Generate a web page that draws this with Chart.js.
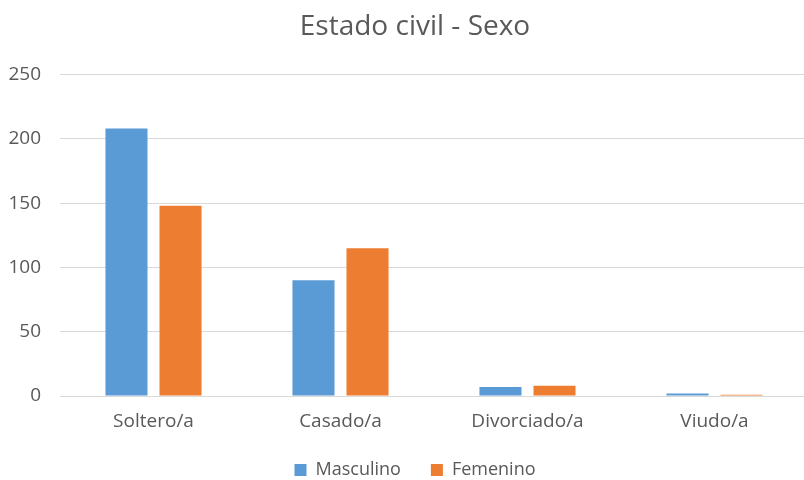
<!DOCTYPE html>
<html lang="es">
<head>
    <meta charset="UTF-8">
    <title>Estado civil - Sexo</title>
    <style>
        html, body {
            margin: 0;
            padding: 0;
            background: white;
            overflow: hidden;
        }
        #wrap {
            width: 830px;
            height: 490px;
        }
    </style>
</head>
<body>
    <div id="wrap"><canvas id="grafico" width="830" height="490"></canvas></div>

    <script src="https://cdn.jsdelivr.net/npm/chart.js"></script>
    <script>
        // datos
        const categorias = ['Soltero/a', 'Casado/a', 'Divorciado/a', 'Viudo/a'];
        const masculino = [208, 90, 7, 2];
        const femenino = [148, 115, 8, 1];
        const nombresSeries = ['Masculino', 'Femenino'];

        const gris = '#595959';
        const fuente = "'Open Sans', sans-serif";

        // centra titulo y leyenda sobre todo el grafico (como en Excel)
        const centrar = {
            id: 'centrar',
            afterLayout(chart) {
                const d = 11;
                [chart.titleBlock, chart.legend].forEach(b => {
                    if (b) { b.left += d; b.right += d; }
                });
            }
        };

        new Chart(document.getElementById('grafico'), {
            type: 'bar',
            data: {
                labels: categorias,
                datasets: [
                    { label: nombresSeries[0], data: masculino, backgroundColor: '#5B9BD5' },
                    { label: nombresSeries[1], data: femenino, backgroundColor: '#ED7D31' }
                ]
            },
            options: {
                responsive: false,
                animation: false,
                categoryPercentage: 0.578,
                barPercentage: 0.778,
                layout: { padding: { left: 0, right: 22, top: 0, bottom: 1 } },
                plugins: {
                    title: {
                        display: true,
                        text: 'Estado civil - Sexo',
                        color: gris,
                        font: { family: fuente, size: 28, weight: 'normal' },
                        padding: { top: 10, bottom: 31 }
                    },
                    legend: {
                        position: 'bottom',
                        labels: {
                            color: gris,
                            font: { family: fuente, size: 18 },
                            boxWidth: 12,
                            boxHeight: 12,
                            padding: 30
                        }
                    },
                    tooltip: { enabled: false }
                },
                scales: {
                    x: {
                        grid: { display: false, drawTicks: false },
                        border: { color: '#d9d9d9' },
                        ticks: { color: gris, font: { family: fuente, size: 19 }, padding: 14 },
                        afterFit: function (s) { s.height = 35; }
                    },
                    y: {
                        min: 0,
                        max: 250,
                        ticks: { stepSize: 50, color: gris, font: { family: fuente, size: 19 }, padding: 19 },
                        grid: { color: '#d9d9d9', drawTicks: false },
                        border: { display: false },
                        afterFit: function (s) { s.width = 60; }
                    }
                }
            },
            plugins: [centrar]
        });
    </script>
</body>
</html>
